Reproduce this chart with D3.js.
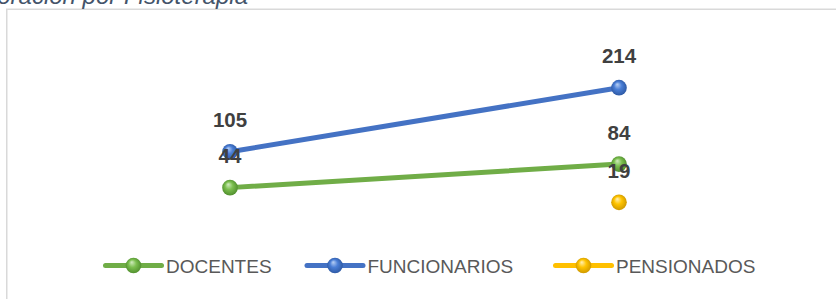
<!DOCTYPE html>
<html>
<head>
<meta charset="utf-8">
<script src="https://cdn.jsdelivr.net/npm/d3@7"></script>
<style>
  html, body { margin: 0; padding: 0; background: #fff; overflow: hidden; }
  svg { display: block; }
</style>
</head>
<body>
<svg id="chart" width="836" height="299"></svg>
<script>
const title = "Valoración por Fisioterapia";
const categories = ["Periodo 1", "Periodo 2"];
const seriesNames = ["DOCENTES", "FUNCIONARIOS", "PENSIONADOS"];
const docentes = [44, 84];
const funcionarios = [105, 214];
const pensionados = [null, 19];
const seriesColors = ["#70AD47", "#4472C4", "#FFC000"];
const gradStops = [
  ["#d2ecc0", "#7cbf4f", "#4c8a2a"],
  ["#b8d0f5", "#4a7ed6", "#2a559f"],
  ["#fff1b8", "#ffc400", "#c99400"]
];

const series = [docentes, funcionarios, pensionados].map((vals, i) => ({
  name: seriesNames[i], values: vals, color: seriesColors[i], stops: gradStops[i], id: "g" + i
}));

const svg = d3.select("#chart");
const W = 836, H = 299;

// gradients for 3D balls
const defs = svg.append("defs");
series.forEach(s => {
  const g = defs.append("radialGradient").attr("id", s.id)
    .attr("cx", "50%").attr("cy", "50%").attr("r", "55%")
    .attr("fx", "38%").attr("fy", "28%");
  g.append("stop").attr("offset", "0%").attr("stop-color", s.stops[0]);
  g.append("stop").attr("offset", "45%").attr("stop-color", s.stops[1]);
  g.append("stop").attr("offset", "100%").attr("stop-color", s.stops[2]);
});

// chart area border
svg.append("rect")
  .attr("x", 6.75).attr("y", 9.25)
  .attr("width", W + 20).attr("height", H + 20)
  .attr("fill", "none").attr("stroke", "#d9d9d9").attr("stroke-width", 1.5);

// title (cut off above the view)
svg.append("text")
  .attr("x", 248).attr("y", 4)
  .attr("text-anchor", "end")
  .attr("font-family", "Liberation Sans, Arial, sans-serif")
  .attr("font-style", "italic")
  .attr("font-size", 24)
  .attr("fill", "#44546A")
  .text(title);

// scales
const x = d3.scalePoint().domain(categories).range([35.5, 813.5]).padding(0.5);
const y = d3.scaleLinear().domain([0, 250]).range([213.5, 66.5]);

const plot = svg.append("g");

// lines
const line = d3.line()
  .defined(d => d.v != null)
  .x(d => x(d.c)).y(d => y(d.v));

series.forEach(s => {
  const pts = categories.map((c, i) => ({ c, v: s.values[i] }));
  plot.append("path")
    .datum(pts)
    .attr("d", line)
    .attr("fill", "none")
    .attr("stroke", s.color)
    .attr("stroke-width", 5)
    .attr("stroke-linecap", "round");
});

// markers
series.forEach(s => {
  const pts = categories.map((c, i) => ({ c, v: s.values[i] })).filter(d => d.v != null);
  plot.selectAll(null).data(pts).enter().append("circle")
    .attr("cx", d => x(d.c)).attr("cy", d => y(d.v))
    .attr("r", 7.8)
    .attr("fill", `url(#${s.id})`);
});

// labels
series.forEach(s => {
  const pts = categories.map((c, i) => ({ c, v: s.values[i] })).filter(d => d.v != null);
  plot.selectAll(null).data(pts).enter().append("text")
    .attr("x", d => x(d.c)).attr("y", d => y(d.v) - 24.4)
    .attr("text-anchor", "middle")
    .attr("font-family", "Liberation Sans, Arial, sans-serif")
    .attr("font-weight", "bold")
    .attr("font-size", 20.5)
    .attr("fill", "#404040")
    .text(d => d.v);
});

// legend
const legendX = [105.5, 307, 555.5];
const legendY = 265.5;
const lg = svg.append("g");
series.forEach((s, i) => {
  const g = lg.append("g").attr("transform", `translate(${legendX[i]},${legendY})`);
  g.append("line").attr("x1", 0).attr("x2", 56).attr("y1", 0).attr("y2", 0)
    .attr("stroke", s.color).attr("stroke-width", 5).attr("stroke-linecap", "round");
  g.append("circle").attr("cx", 28).attr("cy", 0).attr("r", 7.8).attr("fill", `url(#${s.id})`);
  g.append("text").attr("x", 60.5).attr("y", 7)
    .attr("font-family", "Liberation Sans, Arial, sans-serif")
    .attr("font-size", 19)
    .attr("fill", "#595959")
    .text(s.name);
});
</script>
</body>
</html>
